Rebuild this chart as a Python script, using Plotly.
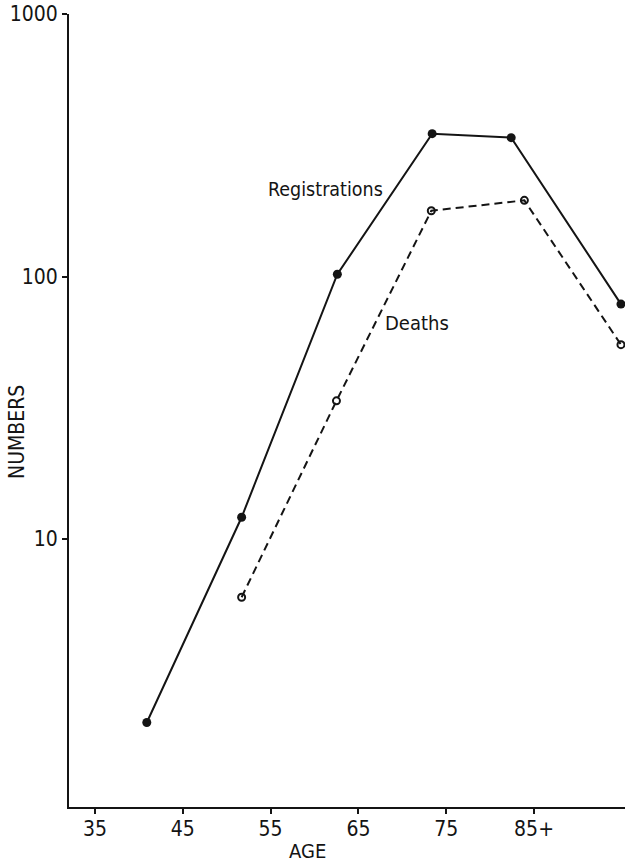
import plotly.graph_objects as go

# Data (age position, count)
reg_age = [40.9, 51.7, 62.6, 73.4, 82.4, 94.9]
reg_num = [2.0, 12.1, 102, 350, 338, 78.5]

death_age = [51.7, 62.5, 73.3, 83.9, 94.9]
death_num = [6.0, 33.6, 178, 195, 55]

x_tickvals = [35, 45, 55, 65, 75, 85]
x_ticktext = ["35", "45", "55", "65", "75", "85+"]
y_tickvals = [10, 100, 1000]
y_ticktext = ["10", "100", "1000"]

FONT = "DejaVu Sans Condensed, Liberation Sans Narrow, Arial Narrow, sans-serif"
INK = "#141414"

fig = go.Figure()
fig.add_trace(go.Scatter(
    x=reg_age, y=reg_num, mode="lines+markers", name="Registrations",
    line=dict(color=INK, width=2),
    marker=dict(symbol="circle", size=9, color=INK),
    cliponaxis=False,
))
fig.add_trace(go.Scatter(
    x=death_age, y=death_num, mode="lines+markers", name="Deaths",
    line=dict(color=INK, width=2, dash="8px,5px"),
    marker=dict(symbol="circle-open", size=7, color=INK, line=dict(width=2, color=INK)),
    cliponaxis=False,
))

fig.add_annotation(x=61.2, y=2.33, xref="x", yref="y", text="Registrations",
                   showarrow=False, font=dict(family=FONT, size=19.5, color=INK))
fig.add_annotation(x=71.7, y=1.823, xref="x", yref="y", text="Deaths",
                   showarrow=False, font=dict(family=FONT, size=20, color=INK))
fig.add_annotation(x=307, y=863 - 851, xref="paper", yref="paper", text="AGE",
                   showarrow=False, font=dict(family=FONT, size=20, color=INK))
fig.add_annotation(x=17, y=863 - 432, xref="paper", yref="paper", text="NUMBERS",
                   textangle=-90, showarrow=False, font=dict(family=FONT, size=21, color=INK))

fig.update_layout(
    width=625, height=863,
    margin=dict(l=69, r=0, t=14, b=56),
    paper_bgcolor="white", plot_bgcolor="white",
    showlegend=False,
    font=dict(family=FONT, size=20, color=INK),
)
# convert pixel-position annotations to paper fractions
for a in fig.layout.annotations:
    if a.xref == "paper":
        a.x = (a.x - 69) / (625 - 69)
        a.y = (a.y - 56) / (863 - 14 - 56)
        a.xanchor = "center"
        a.yanchor = "middle"

fig.update_xaxes(
    range=[32.04, 95.36], tickvals=x_tickvals, ticktext=x_ticktext,
    showgrid=False, zeroline=False, showline=True, linecolor=INK, linewidth=2,
    ticks="outside", ticklen=5, tickwidth=2, tickcolor=INK, automargin=False,
    ticklabelstandoff=-3,
    tickfont=dict(family=FONT, size=21, color=INK),
)
fig.update_yaxes(
    type="log", range=[-0.021, 3.0], tickvals=y_tickvals, ticktext=y_ticktext,
    showgrid=False, zeroline=False, showline=True, linecolor=INK, linewidth=2,
    ticks="outside", ticklen=5, tickwidth=2, tickcolor=INK, automargin=False,
    tickfont=dict(family=FONT, size=21, color=INK),
)

fig.write_html("out.html")
